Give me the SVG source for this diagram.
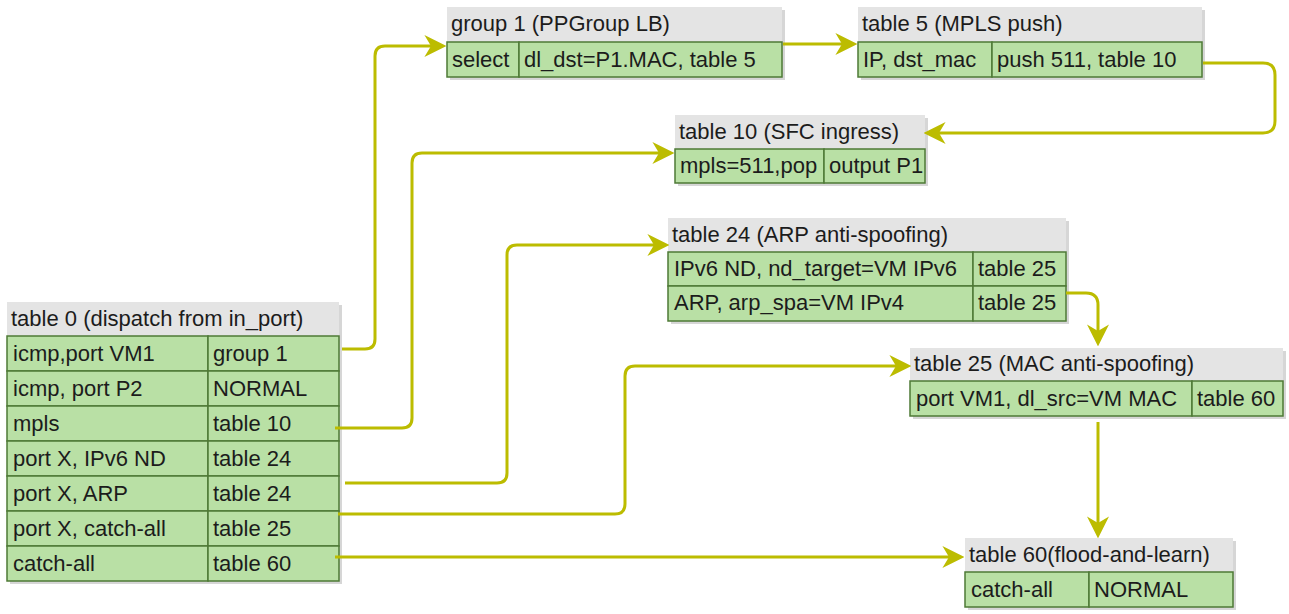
<svg xmlns="http://www.w3.org/2000/svg" width="1289" height="614" viewBox="0 0 1289 614">
<style>
  .hdr { fill: #e4e4e4; }
  .shadow { fill: #c4c4c4; opacity: 0.7; }
  .cell { fill: #b9e0a5; stroke: #4e7a36; stroke-width: 1.5; }
  text { font-family: "Liberation Sans", Arial, sans-serif; font-size: 22px; fill: #1c1c1c; }
  .conn { fill: none; stroke: #bcbc00; stroke-width: 3; }
</style>
<defs>
  <marker id="arr" markerUnits="userSpaceOnUse" markerWidth="22" markerHeight="22" viewBox="0 0 20 20" refX="6" refY="10" orient="auto">
    <path d="M0,0 L20,10 L0,20 L6,10 Z" fill="#bcbc00"/>
  </marker>
</defs>
<rect width="1289" height="614" fill="#ffffff"/>

<g id="table0">
  <rect class="shadow" x="10" y="305" width="332" height="279"/>
  <rect class="hdr" x="7" y="302" width="332" height="34"/>
  <text x="11" y="326">table 0 (dispatch from in_port)</text>
  <rect class="cell" x="7" y="336" width="201" height="35"/><rect class="cell" x="208" y="336" width="131" height="35"/>
  <rect class="cell" x="7" y="371" width="201" height="35"/><rect class="cell" x="208" y="371" width="131" height="35"/>
  <rect class="cell" x="7" y="406" width="201" height="35"/><rect class="cell" x="208" y="406" width="131" height="35"/>
  <rect class="cell" x="7" y="441" width="201" height="35"/><rect class="cell" x="208" y="441" width="131" height="35"/>
  <rect class="cell" x="7" y="476" width="201" height="35"/><rect class="cell" x="208" y="476" width="131" height="35"/>
  <rect class="cell" x="7" y="511" width="201" height="35"/><rect class="cell" x="208" y="511" width="131" height="35"/>
  <rect class="cell" x="7" y="546" width="201" height="35"/><rect class="cell" x="208" y="546" width="131" height="35"/>
  <text x="13" y="361">icmp,port VM1</text><text x="213" y="361">group 1</text>
  <text x="13" y="396">icmp, port P2</text><text x="213" y="396">NORMAL</text>
  <text x="13" y="431">mpls</text><text x="213" y="431">table 10</text>
  <text x="13" y="466">port X, IPv6 ND</text><text x="213" y="466">table 24</text>
  <text x="13" y="501">port X, ARP</text><text x="213" y="501">table 24</text>
  <text x="13" y="536">port X, catch-all</text><text x="213" y="536">table 25</text>
  <text x="13" y="571">catch-all</text><text x="213" y="571">table 60</text>
</g>

<g id="group1">
  <rect class="shadow" x="450" y="10" width="335" height="70"/>
  <rect class="hdr" x="447" y="7" width="335" height="35"/>
  <text x="451" y="31">group 1 (PPGroup LB)</text>
  <rect class="cell" x="447" y="42" width="72" height="35"/><rect class="cell" x="519" y="42" width="263" height="35"/>
  <text x="452" y="67">select</text><text x="524" y="67">dl_dst=P1.MAC, table 5</text>
</g>

<g id="table5">
  <rect class="shadow" x="861" y="10" width="344" height="70"/>
  <rect class="hdr" x="858" y="7" width="344" height="35"/>
  <text x="862" y="31">table 5 (MPLS push)</text>
  <rect class="cell" x="858" y="42" width="134" height="35"/><rect class="cell" x="992" y="42" width="210" height="35"/>
  <text x="863" y="67">IP, dst_mac</text><text x="997" y="67">push 511, table 10</text>
</g>

<g id="table10">
  <rect class="shadow" x="678" y="118" width="250" height="68"/>
  <rect class="hdr" x="675" y="115" width="250" height="34"/>
  <text x="679" y="139">table 10 (SFC ingress)</text>
  <rect class="cell" x="675" y="149" width="149" height="34"/><rect class="cell" x="824" y="149" width="101" height="34"/>
  <text x="680" y="173">mpls=511,pop</text><text x="829" y="173">output P1</text>
</g>

<g id="table24">
  <rect class="shadow" x="671" y="221" width="398" height="103"/>
  <rect class="hdr" x="668" y="218" width="398" height="34"/>
  <text x="672" y="242">table 24 (ARP anti-spoofing)</text>
  <rect class="cell" x="668" y="252" width="305" height="34"/><rect class="cell" x="973" y="252" width="93" height="34"/>
  <rect class="cell" x="668" y="286" width="305" height="35"/><rect class="cell" x="973" y="286" width="93" height="35"/>
  <text x="674" y="276">IPv6 ND, nd_target=VM IPv6</text><text x="978" y="276">table 25</text>
  <text x="674" y="310">ARP, arp_spa=VM IPv4</text><text x="978" y="310">table 25</text>
</g>

<g id="table25">
  <rect class="shadow" x="913" y="351" width="373" height="68"/>
  <rect class="hdr" x="910" y="348" width="373" height="33"/>
  <text x="914" y="371">table 25 (MAC anti-spoofing)</text>
  <rect class="cell" x="910" y="381" width="282" height="35"/><rect class="cell" x="1192" y="381" width="91" height="35"/>
  <text x="916" y="406">port VM1, dl_src=VM MAC</text><text x="1197" y="406">table 60</text>
</g>

<g id="table60">
  <rect class="shadow" x="968" y="541" width="268" height="69"/>
  <rect class="hdr" x="965" y="538" width="268" height="34"/>
  <text x="969" y="562">table 60(flood-and-learn)</text>
  <rect class="cell" x="965" y="572" width="124" height="35"/><rect class="cell" x="1089" y="572" width="144" height="35"/>
  <text x="971" y="597">catch-all</text><text x="1094" y="597">NORMAL</text>
</g>

<g id="connectors">
  <path class="conn" marker-end="url(#arr)" d="M342,349 H365 Q375,349 375,339 V56 Q375,46 385,46 H431"/>
  <path class="conn" marker-end="url(#arr)" d="M335,428 H402 Q412,428 412,418 V163 Q412,153 422,153 H659"/>
  <path class="conn" marker-end="url(#arr)" d="M345,483 H497 Q507,483 507,473 V255 Q507,245 517,245 H654"/>
  <path class="conn" marker-end="url(#arr)" d="M338,514 H615 Q625,514 625,504 V376 Q625,366 635,366 H896"/>
  <path class="conn" marker-end="url(#arr)" d="M335,557 H949"/>
  <path class="conn" marker-end="url(#arr)" d="M783,44 H842"/>
  <path class="conn" marker-end="url(#arr)" d="M1203,63 H1263 Q1275,63 1275,75 V121 Q1275,133 1263,133 H939"/>
  <path class="conn" marker-end="url(#arr)" d="M1066,293 H1086 Q1098,293 1098,305 V331"/>
  <path class="conn" marker-end="url(#arr)" d="M1098,422 V523"/>
</g>
</svg>
